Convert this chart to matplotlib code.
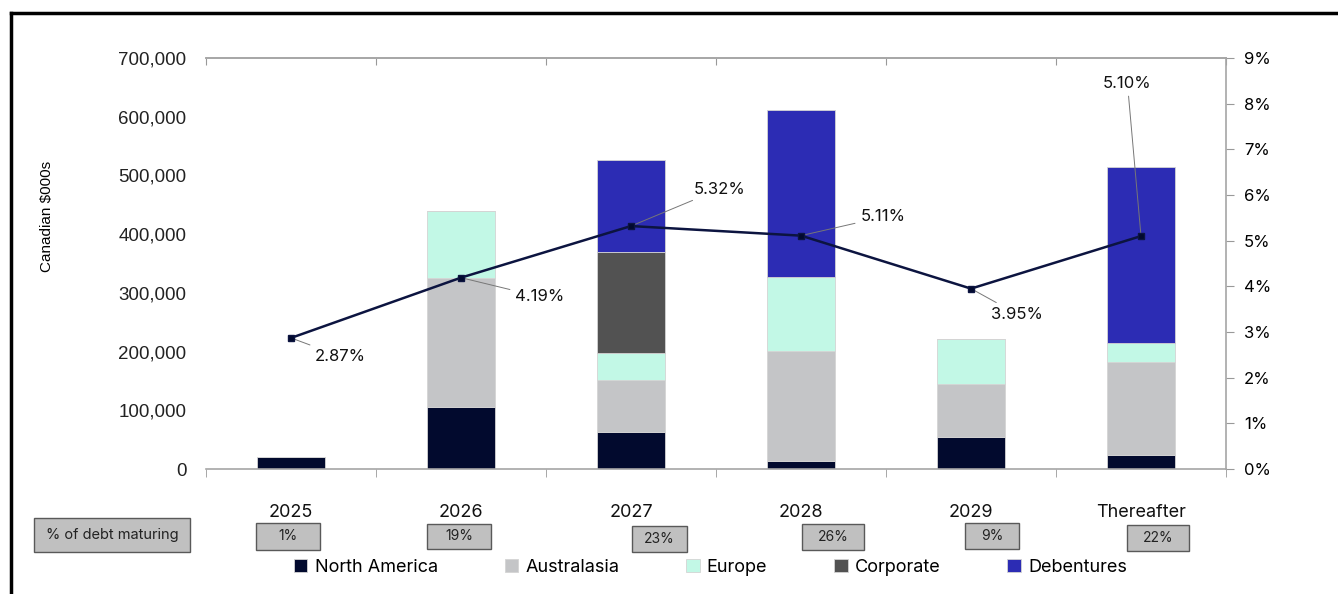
import matplotlib
matplotlib.use("Agg")
import matplotlib.pyplot as plt
from matplotlib.patches import Rectangle
from matplotlib.lines import Line2D
from matplotlib.ticker import FuncFormatter, FixedLocator
import numpy as np

# Datos (miles de CAD)
years = ["2025", "2026", "2027", "2028", "2029", "Thereafter"]
north_america = [20000, 106000, 63000, 13000, 55000, 23000]
australasia = [0, 219000, 89000, 188000, 90000, 159000]
europe = [0, 115000, 45000, 126000, 76000, 32000]
corporate = [0, 0, 173000, 0, 0, 0]
debentures = [0, 0, 156000, 285000, 0, 300000]
rates = [2.87, 4.19, 5.32, 5.11, 3.95, 5.10]
maturing_pct = ["1%", "19%", "23%", "26%", "9%", "22%"]

series_names = ["North America", "Australasia", "Europe", "Corporate", "Debentures"]
colors = ["#020a2e", "#c4c5c7", "#c2f8e6", "#525252", "#2c2cb4"]

W, H = 1338, 594
fig = plt.figure(figsize=(W / 100, H / 100), dpi=100)
ax = fig.add_axes([206 / W, 1 - 469 / H, (1226 - 206) / W, (469 - 58) / H])

x = np.arange(len(years))
bottom = np.zeros(len(years))
handles = []
for name, vals, col in zip(series_names,
                           [north_america, australasia, europe, corporate, debentures],
                           colors):
    b = ax.bar(x, vals, 0.4, bottom=bottom, color=col, edgecolor="#d4d4d4",
               linewidth=0.6, label=name, zorder=2)
    bottom += np.array(vals)
    handles.append(b)

ax.set_xlim(-0.5, len(years) - 0.5)
ax.set_ylim(0, 700000)
ax.set_yticks(np.arange(0, 700001, 100000))
ax.yaxis.set_major_formatter(FuncFormatter(lambda v, p: f"{int(v):,}"))
ax.tick_params(axis="y", length=0, pad=14, labelsize=13.5, labelcolor="#222222")
for lab in ax.get_yticklabels():
    lab.set_family("Liberation Sans")

# Eje x: ticks en los limites de categoria, etiquetas aparte
ax.set_xticks([])
ax.xaxis.set_minor_locator(FixedLocator(np.arange(-0.5, len(years), 1.0)))
ax.tick_params(axis="x", which="minor", length=6, color="#999999", direction="out")
ax.spines["left"].set_visible(False)
ax.spines["right"].set_visible(False)
for sp in ["top", "bottom"]:
    ax.spines[sp].set_color("#a6a6a6")
    ax.spines[sp].set_linewidth(1.2)

# ticks de arriba hacia dentro
top = ax.secondary_xaxis("top")
top.set_xticks(np.arange(-0.5, len(years), 1.0))
top.set_xticklabels([])
top.tick_params(length=5, color="#999999", direction="in")
top.spines["top"].set_color("#a6a6a6")
top.spines["top"].set_linewidth(1.2)

ax.set_ylabel("Canadian $000s", fontsize=11, family="Liberation Sans")
ax.yaxis.set_label_coords(-0.149, 0.615)

# Etiquetas de los años
for i, yr in enumerate(years):
    ax.text(i, -0.105, yr, transform=ax.get_xaxis_transform(), ha="center",
            va="center", fontsize=13, family="Inter", color="#111111")

# Eje derecho con la tasa
ax2 = ax.twinx()
ax2.set_ylim(0, 9)
ax2.set_yticks(np.arange(0, 10, 1))
ax2.yaxis.set_major_formatter(FuncFormatter(lambda v, p: f"{int(v)}%"))
ax2.tick_params(axis="y", length=6, color="#999999", labelsize=12, pad=7)
for lab in ax2.get_yticklabels():
    lab.set_family("Inter")
for sp in ["left", "top", "bottom"]:
    ax2.spines[sp].set_visible(False)
ax2.spines["right"].set_color("#a6a6a6")
ax2.spines["right"].set_linewidth(1.2)

ax2.plot(x, rates, color="#0c1440", linewidth=1.8, marker="s", markersize=5,
         markerfacecolor="#020a2e", zorder=5)

# Etiquetas de la tasa con linea guia
label_pos = [(0.14, 2.47, "left"), (1.32, 3.77, "left"), (2.37, 6.13, "left"),
             (3.35, 5.52, "left"), (4.12, 3.39, "left"), (4.92, 8.45, "center")]
for i, (lx, ly, ha) in enumerate(label_pos):
    ax2.annotate(f"{rates[i]:.2f}%", xy=(i, rates[i]), xytext=(lx, ly),
                 ha=ha, va="center", fontsize=12, family="Inter", color="#111111",
                 arrowprops=dict(arrowstyle="-", color="#777777", lw=0.7,
                                 shrinkA=2, shrinkB=0))

# Cajas de "% of debt maturing"
def caja(x0, y0, x1, y1, txt, size):
    fig.patches.append(Rectangle((x0 / W, 1 - y1 / H), (x1 - x0) / W, (y1 - y0) / H,
                                 transform=fig.transFigure, facecolor="#c0c0c0",
                                 edgecolor="#595959", linewidth=1.0))
    fig.text((x0 + x1) / 2 / W, 1 - (y0 + y1) / 2 / H, txt, ha="center", va="center",
             fontsize=size, family="Inter", color="#222222")

caja(34, 518, 190, 552, "% of debt maturing", 10.5)
box_x = [(256, 320), (427, 491), (632, 687), (802, 864), (965, 1019), (1127, 1189)]
box_y = [(523, 550), (524, 549), (526, 552), (524, 550), (523, 549), (525, 551)]
for (x0, x1), (y0, y1), txt in zip(box_x, box_y, maturing_pct):
    caja(x0, y0, x1, y1, txt, 10)

# Leyenda abajo
fig.legend(handles=handles, labels=series_names, loc="center",
           bbox_to_anchor=(0.531, 1 - 567 / H), ncol=5, frameon=False,
           handlelength=0.75, handleheight=0.75, handletextpad=0.4,
           columnspacing=3.7, prop={"family": "Inter", "size": 13})

# Marco negro arriba y a la izquierda
fig.add_artist(Line2D([11 / W, 1], [1 - 13 / H, 1 - 13 / H], color="black", lw=2.5,
                      transform=fig.transFigure))
fig.add_artist(Line2D([11 / W, 11 / W], [0, 1 - 13 / H], color="black", lw=2.5,
                      transform=fig.transFigure))

fig.savefig("out.png", dpi=100)
